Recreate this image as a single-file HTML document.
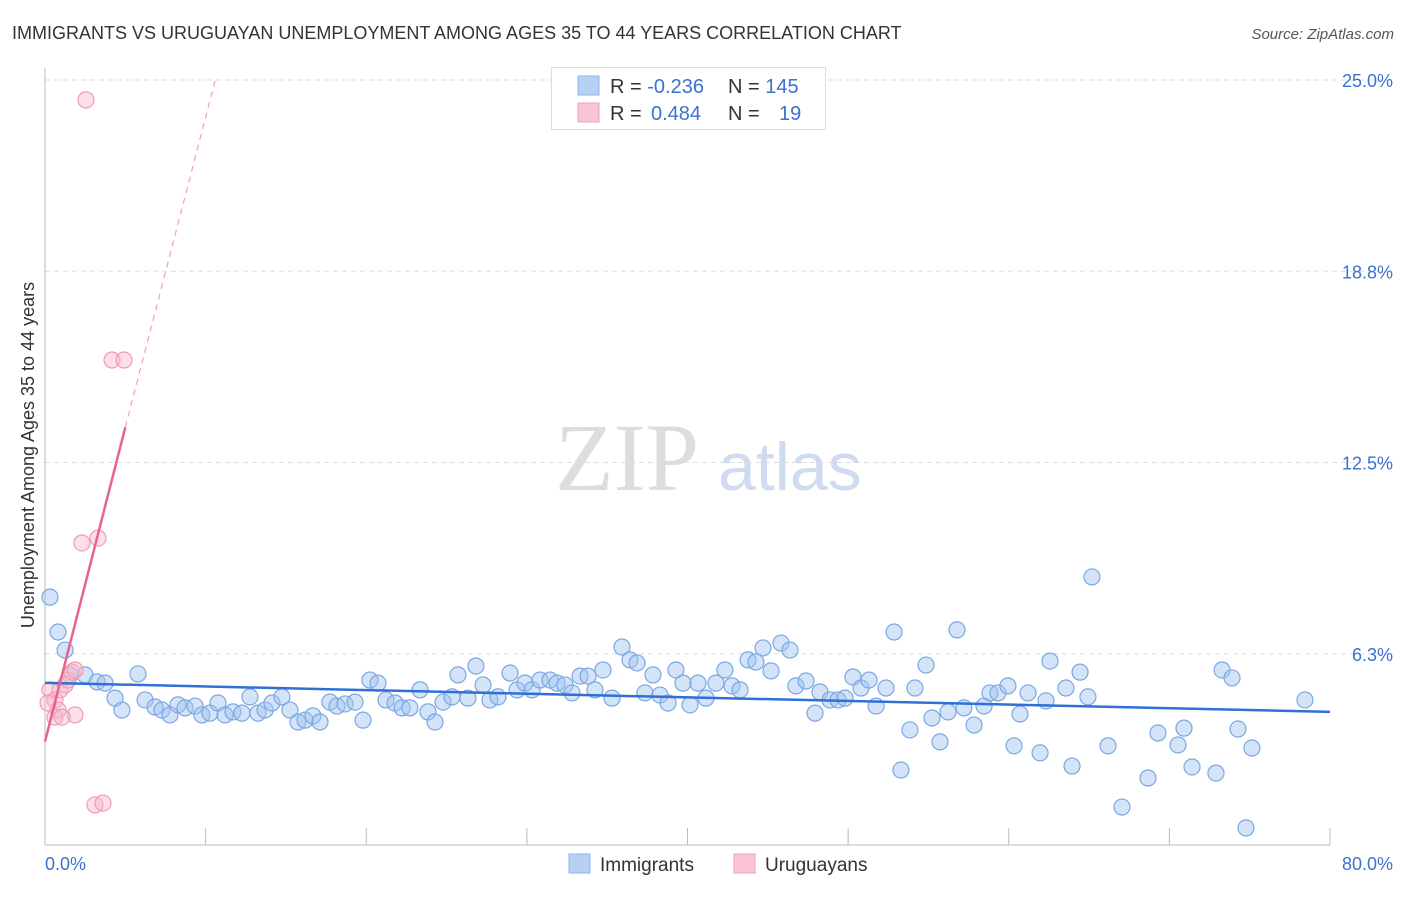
<!DOCTYPE html>
<html><head><meta charset="utf-8"><style>
body{margin:0;background:#fff;font-family:"Liberation Sans",sans-serif}
</style></head><body>
<svg id="chart" width="1406" height="892" xmlns="http://www.w3.org/2000/svg" font-family="Liberation Sans, sans-serif">
<text x="12" y="39" font-size="18" fill="#333">IMMIGRANTS VS URUGUAYAN UNEMPLOYMENT AMONG AGES 35 TO 44 YEARS CORRELATION CHART</text>
<text x="1394" y="39" font-size="15" fill="#555" text-anchor="end" font-style="italic">Source: ZipAtlas.com</text>
<text x="555" y="490" font-size="96" fill="#ddd" font-family="Liberation Serif, serif">ZIP</text>
<text x="718" y="490" font-size="68" fill="#cfdcef">atlas</text>
<text transform="translate(34,455) rotate(-90)" font-size="18" fill="#333" text-anchor="middle">Unemployment Among Ages 35 to 44 years</text>
<g id="grid"></g><g id="ticks"></g><g id="marks"></g>
<g>
<rect x="551.5" y="67.5" width="274" height="62" fill="#fff" stroke="#ddd"/>
<rect x="578" y="76" width="21" height="19" fill="#b7d1f5" stroke="#8fb5e8"/>
<rect x="578" y="103" width="21" height="19" fill="#f9c4d5" stroke="#f0a0b8"/>
<text x="610" y="93" font-size="20" fill="#333">R = <tspan fill="#3a72d0">-0.236</tspan><tspan x="728">N = </tspan><tspan fill="#3a72d0">145</tspan></text>
<text x="610" y="120" font-size="20" fill="#333">R = <tspan x="651" fill="#3a72d0">0.484</tspan><tspan x="728">N = </tspan><tspan x="779" fill="#3a72d0">19</tspan></text>
</g>
<g>
<rect x="569" y="854" width="21" height="19" fill="#b7d1f5" stroke="#8fb5e8"/>
<text x="600" y="871" font-size="19" fill="#333">Immigrants</text>
<rect x="734" y="854" width="21" height="19" fill="#f9c4d5" stroke="#f0a0b8"/>
<text x="765" y="871" font-size="19" fill="#333">Uruguayans</text>
</g>
</svg>
<script>
const xTicks=[0,10,20,30,40,50,60,70,80];
const yTicks=[6.25,12.5,18.75,25];
const yTickLabels=["6.3%","12.5%","18.8%","25.0%"];
const bluePx=[[50,597],[58,632],[65,650],[70,675],[85,675],[97,682],[105,683],[115,698],[122,710],[138,674],[145,700],[155,707],[162,710],[170,715],[178,705],[185,708],[195,706],[202,715],[210,713],[218,703],[225,715],[233,712],[242,713],[250,697],[258,713],[265,710],[272,703],[282,697],[290,710],[298,722],[305,720],[313,716],[320,722],[330,702],[337,706],[345,704],[355,702],[363,720],[370,680],[378,683],[386,700],[395,703],[402,708],[410,708],[420,690],[428,712],[435,722],[443,702],[452,697],[458,675],[468,698],[476,666],[483,685],[490,700],[498,697],[510,673],[517,690],[525,683],[532,690],[540,680],[550,680],[557,683],[565,685],[572,693],[580,676],[588,676],[595,690],[603,670],[612,698],[622,647],[630,660],[637,663],[645,693],[653,675],[660,695],[668,703],[676,670],[683,683],[690,705],[698,683],[706,698],[716,683],[725,670],[732,686],[740,690],[748,660],[756,662],[763,648],[771,671],[781,643],[790,650],[796,686],[806,681],[815,713],[820,692],[830,700],[838,700],[845,698],[853,677],[861,688],[869,680],[876,706],[886,688],[894,632],[901,770],[910,730],[915,688],[926,665],[932,718],[940,742],[948,712],[957,630],[964,708],[974,725],[984,706],[990,693],[998,693],[1008,686],[1014,746],[1020,714],[1028,693],[1040,753],[1046,701],[1050,661],[1066,688],[1072,766],[1080,672],[1088,697],[1092,577],[1108,746],[1122,807],[1148,778],[1158,733],[1178,745],[1184,728],[1192,767],[1216,773],[1222,670],[1232,678],[1238,729],[1246,828],[1252,748],[1305,700]];
const pinkPx=[[86,100],[112,360],[124,360],[82,543],[98,538],[50,690],[55,700],[58,710],[60,690],[65,685],[68,680],[72,672],[75,715],[55,717],[62,717],[48,703],[95,805],[103,803],[75,670]];
// convert to data values (percent)
const blueX=bluePx.map(p=>+((p[0]-45)/16.0625).toFixed(2));
const blueY=bluePx.map(p=>+((845-p[1])/30.6).toFixed(2));
const pinkX=pinkPx.map(p=>+((p[0]-45)/16.0625).toFixed(2));
const pinkY=pinkPx.map(p=>+((845-p[1])/30.6).toFixed(2));
const blueTrend=[[0,5.3],[80,4.35]];
const pinkTrend=[[0,3.38],[5,13.65],[10.6,25]];

const X=v=>45+v*16.0625, Y=v=>845-v*30.6;
const NS="http://www.w3.org/2000/svg";
function mk(tag,attrs,parent){const e=document.createElementNS(NS,tag);for(const k in attrs)e.setAttribute(k,attrs[k]);parent.appendChild(e);return e;}
const grid=document.getElementById('grid'),ticks=document.getElementById('ticks'),marks=document.getElementById('marks');
yTicks.forEach((t,i)=>{
 const l=mk('line',{x1:45,x2:1394,y1:Y(t),y2:Y(t),stroke:'#ddd','stroke-dasharray':'5,4'},grid);
 
 
 const tx=mk('text',{x:1393,y:Y(t)+7,'font-size':18,fill:'#3a72d0','text-anchor':'end'},ticks);
 tx.textContent=yTickLabels[i];
 
 
});
const ax=mk('line',{x1:45,x2:1330,y1:845,y2:845,stroke:'#bbb'},grid);


const ay=mk('line',{x1:45,x2:45,y1:68,y2:845,stroke:'#bbb'},grid);


xTicks.forEach(t=>{
 const l=mk('line',{x1:X(t),x2:X(t),y1:828,y2:845,stroke:'#bbb'},grid);
 
 
});
[[0,'0.0%','start',45],[80,'80.0%','end',1393]].forEach(d=>{
 const tx=mk('text',{x:d[3],y:870,'font-size':18,fill:'#3a72d0','text-anchor':d[2]},ticks);
 tx.textContent=d[1];
 
 
});
blueX.forEach((x,i)=>{
 const c=mk('circle',{cx:X(x),cy:Y(blueY[i]),r:8,fill:'rgba(160,195,240,0.45)',stroke:'#7aa7e3','stroke-width':1.2},marks);
 
 
});
pinkX.forEach((x,i)=>{
 const c=mk('circle',{cx:X(x),cy:Y(pinkY[i]),r:8,fill:'rgba(248,185,205,0.45)',stroke:'#f09ab5','stroke-width':1.2},marks);
 
 
});
const bt=mk('line',{x1:X(blueTrend[0][0]),y1:Y(blueTrend[0][1]),x2:X(blueTrend[1][0]),y2:Y(blueTrend[1][1]),stroke:'#2f6fd6','stroke-width':2.5},marks);


const pt=mk('line',{x1:X(pinkTrend[0][0]),y1:Y(pinkTrend[0][1]),x2:X(pinkTrend[1][0]),y2:Y(pinkTrend[1][1]),stroke:'#e8648f','stroke-width':2.5},marks);


const pd=mk('line',{x1:X(pinkTrend[1][0]),y1:Y(pinkTrend[1][1]),x2:X(pinkTrend[2][0]),y2:Y(pinkTrend[2][1]),stroke:'#f0a0b8','stroke-width':1.2,'stroke-dasharray':'6,5'},marks);


</script>
</body></html>
